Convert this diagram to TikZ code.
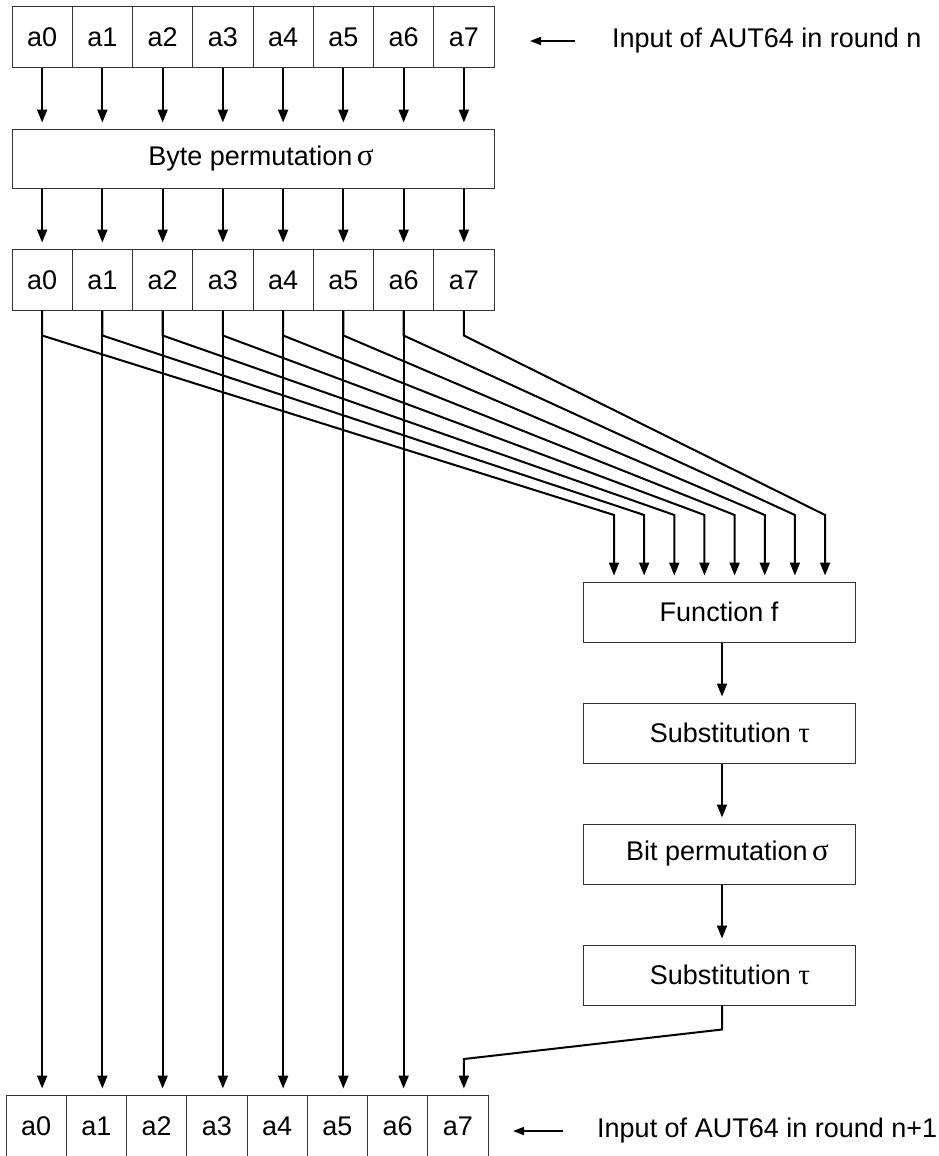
\documentclass[tikz,border=0pt]{standalone}
\usepackage{fontspec}
\setmainfont{Liberation Sans}
\newfontfamily\grk{Liberation Serif}
\usetikzlibrary{arrows.meta}
\begin{document}
\begin{tikzpicture}[x=1pt,y=-1pt,
  box/.style={draw=black!80, line width=1pt, inner sep=0pt, font=\fontsize{27}{32}\selectfont},
  cell/.style={box, minimum width=60.25pt, minimum height=61pt, text height=19.5pt, text depth=0.5pt},
  wide/.style={box, minimum width=272pt, minimum height=60pt},
  arr/.style={line width=2pt, shorten >=6pt, -{Triangle[length=13pt,width=10pt]}},
  lbl/.style={anchor=west, inner sep=0pt, font=\fontsize{27}{32}\selectfont},
  larr/.style={line width=1.6pt, -{Triangle[length=11pt,width=8pt]}}
]
\useasboundingbox (0,0) rectangle (938,1156);
\newcommand\gsig{{\grk\fontsize{31}{33}\selectfont σ}}
\newcommand\gtau{{\grk\fontsize{29}{33}\selectfont τ}}
\foreach \i in {0,...,7}{
  \node[cell] (t\i) at ({12+60.25*(\i+0.5)},37.5) {a\i};
  \node[cell] (m\i) at ({12+60.25*(\i+0.5)},279.5) {a\i};
  \node[cell] (b\i) at ({6+60.25*(\i+0.5)},1125.5) {a\i};
}
\node[box, minimum width=482pt, minimum height=59pt] (bp) at (253,158.5) {\hspace*{16pt}Byte permutation\,\gsig};
\node[wide] (f) at (719,612) {Function f};
\node[wide] (s1) at (719,733) {\hspace*{22pt}Substitution~\gtau};
\node[wide] (bpm) at (719,854) {\hspace*{17pt}Bit permutation\,\gsig};
\node[wide] (s2) at (719,975) {\hspace*{22pt}Substitution~\gtau};

\foreach \i in {0,...,7}{
  \draw[arr] (t\i.south) -- (t\i.south |- bp.north);
  \draw[arr] (bp.south -| m\i.north) -- (m\i.north);
}
\foreach \i in {0,...,6}{
  \draw[arr] (m\i.south) -- (m\i.south |- b\i.north);
}
\foreach \i in {0,...,7}{
  \coordinate (in\i) at ({614+30.15*\i},515);
  \draw[arr, line join=miter] (m\i.south) -- ++(0,25) -- (in\i) -- (in\i |- f.north);
}
\draw[arr] ([xshift=3pt]f.south) -- ([xshift=3pt]s1.north);
\draw[arr] ([xshift=3pt]s1.south) -- ([xshift=3pt]bpm.north);
\draw[arr] ([xshift=3pt]bpm.south) -- ([xshift=3pt]s2.north);
\coordinate (k) at (m7.south |- 0,1059);
\draw[arr] ([xshift=3pt]s2.south) -- ++(0,24) -- (k) -- (k |- b7.north);

\node[lbl] (l1) at (612,41) {Input of AUT64 in round n};
\draw[larr] ([xshift=-37pt]l1.west) -- ([xshift=-82pt]l1.west);
\node[lbl] (l2) at (597,1131) {Input of AUT64 in round n+1};
\draw[larr] ([xshift=-34pt]l2.west) -- ([xshift=-84pt]l2.west);
\end{tikzpicture}
\end{document}
